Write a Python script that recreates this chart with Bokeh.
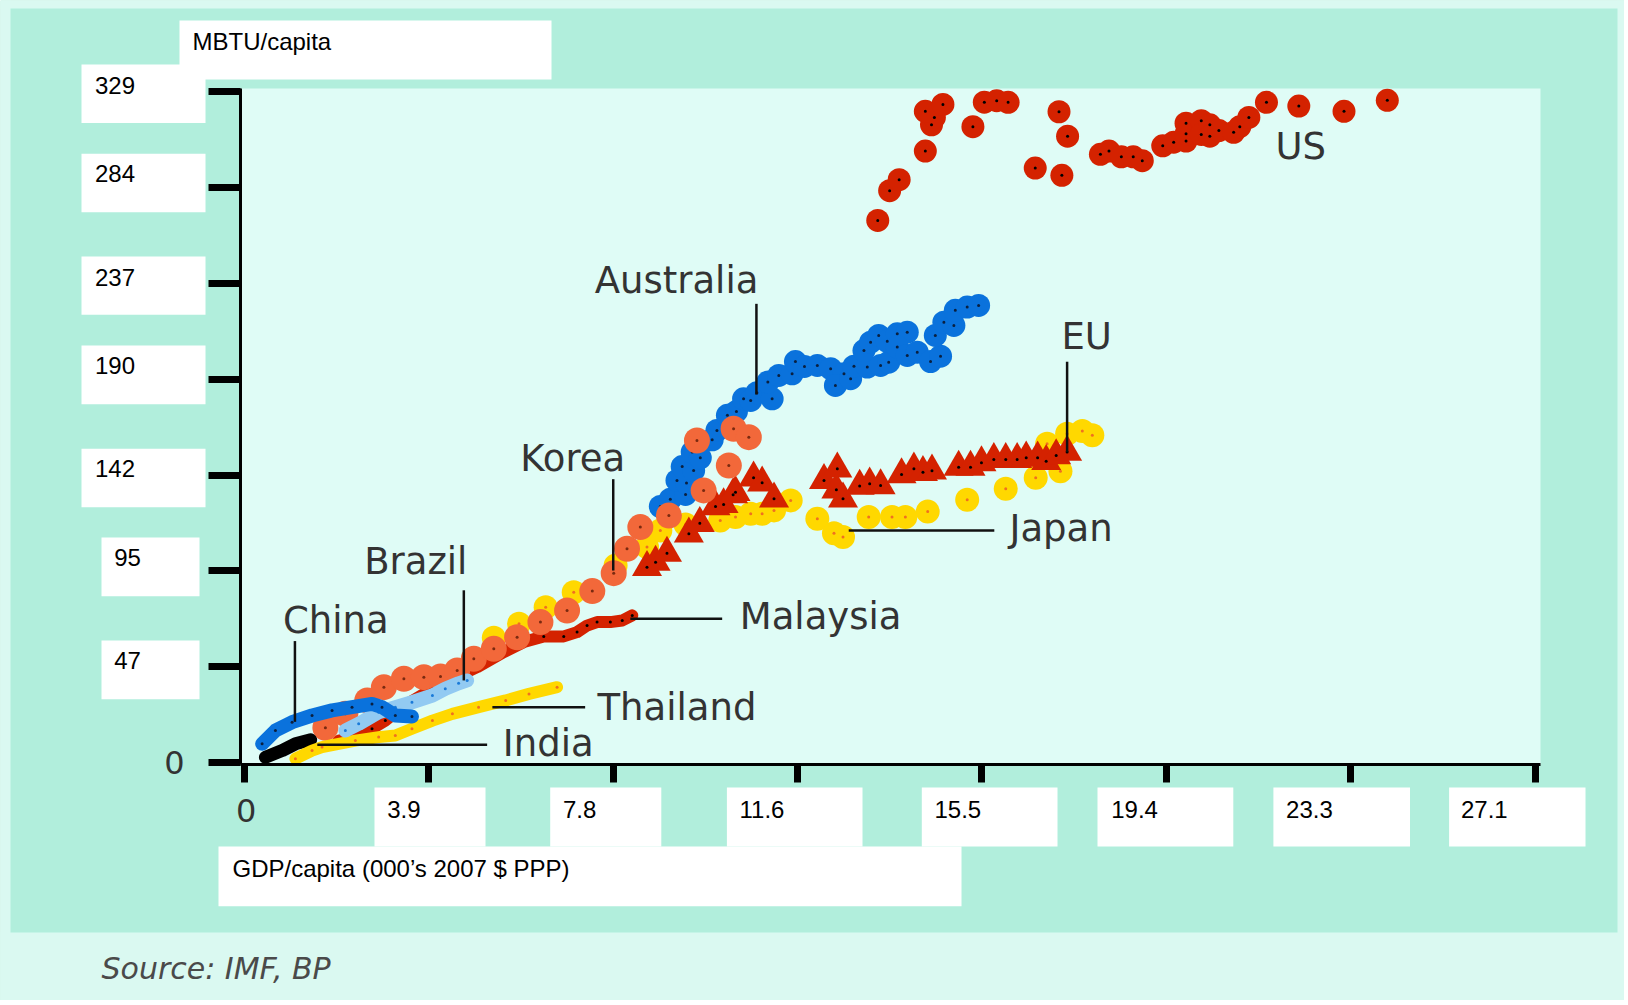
from bokeh.plotting import figure
from bokeh.models import Range1d, FixedTicker, BoxAnnotation, Label, LinearAxis
from bokeh.embed import file_html
from bokeh.resources import INLINE

# ---------------- data (GDP/capita, 000's 2007 $ PPP ; MBTU/capita) ----------------
x_ticks = [0, 3.875, 7.75, 11.625, 15.5, 19.375, 23.25, 27.125]
x_tick_labels = ["0", "3.9", "7.8", "11.6", "15.5", "19.4", "23.3", "27.1"]
y_ticks = [0, 47, 94, 141, 188, 235, 282, 329]
y_tick_labels = ["0", "47", "95", "142", "190", "237", "284", "329"]

us_gdp = [13.31, 13.56, 13.76, 14.31, 14.44, 14.50, 14.31, 14.68, 15.31, 15.55, 15.81, 16.05,
          17.12, 17.30, 16.62, 17.18, 17.99, 18.17, 18.43, 18.68, 18.87, 19.30, 19.53, 19.79,
          19.79, 19.79, 20.11, 20.11, 20.29, 20.29, 20.48, 20.79, 20.92, 21.11, 21.48, 22.16,
          23.11, 24.02]
us_energy = [265.9, 280.5, 285.9, 299.9, 312.8, 316.4, 319.4, 322.8, 311.9, 323.9, 324.6, 323.8,
             319.2, 307.2, 291.6, 288.0, 298.3, 299.9, 297.1, 297.1, 295.2, 302.5, 304.3, 304.8,
             308.4, 313.6, 314.8, 308.1, 312.8, 307.2, 310.0, 309.1, 311.9, 316.4, 323.8, 322.0,
             319.4, 324.8]

au_gdp = [8.74, 8.95, 9.27, 9.09, 9.29, 9.20, 9.44, 9.41, 9.58, 9.83, 9.93, 10.15, 10.34, 10.49,
          10.64, 10.77, 11.09, 11.00, 11.23, 11.51, 11.58, 11.77, 12.04, 12.32, 12.60, 12.42,
          12.74, 12.81, 13.09, 13.37, 13.54, 13.02, 13.16, 13.33, 13.51, 13.72, 13.93, 13.72,
          13.93, 14.14, 14.42, 14.63, 14.52, 14.70, 14.91, 14.94, 15.19, 15.43]
au_energy = [125.6, 129.2, 131.5, 138.4, 137.1, 145.2, 143.3, 152.3, 149.5, 158.3, 162.9, 170.3,
             172.2, 178.4, 177.6, 181.4, 178.4, 186.6, 189.9, 190.7, 196.7, 194.3, 194.8, 193.2,
             190.7, 185.0, 188.3, 194.4, 194.0, 194.8, 196.4, 202.1, 206.2, 209.5, 206.6, 210.3,
             211.1, 203.8, 199.7, 201.3, 196.7, 199.3, 209.5, 216.0, 214.4, 221.8, 223.4, 224.2]

kr_gdp = [1.70, 2.12, 2.58, 2.93, 3.35, 3.77, 4.12, 4.47, 4.82, 5.24, 5.73, 6.22, 6.78, 7.31,
          7.76, 8.04, 8.32, 8.92, 9.65, 10.18, 9.51, 10.28, 10.60]
kr_energy = [17.1, 23.9, 30.5, 37.0, 41.1, 41.9, 42.2, 45.2, 50.9, 55.8, 61.5, 68.9, 74.6, 84.1,
             92.9, 104.9, 115.5, 121.2, 133.5, 145.7, 158.0, 163.7, 159.6]

jp_gdp = [5.24, 5.77, 6.33, 6.92, 7.80, 8.46, 8.74, 9.27, 10.00, 10.32, 10.64, 10.88, 11.13,
          11.48, 12.04, 12.39, 12.58, 13.12, 13.61, 13.89, 14.36, 15.19, 16.00, 16.63, 17.15,
          16.87, 17.29, 17.61, 17.82]
jp_energy = [61.2, 68.1, 76.2, 83.6, 96.7, 105.7, 113.8, 116.8, 118.7, 120.4, 122.0, 122.0, 123.7,
             128.6, 119.6, 112.5, 110.6, 120.4, 120.4, 120.4, 123.2, 128.9, 134.3, 139.7, 142.9,
             156.4, 161.3, 162.6, 160.5]

eu_gdp = [8.46, 8.64, 8.88, 9.34, 9.57, 9.90, 10.07, 10.27, 10.32, 10.70, 10.88, 11.13, 12.18,
          12.46, 12.44, 12.58, 12.93, 13.14, 13.37, 13.81, 14.07, 14.26, 14.45, 15.01, 15.26,
          15.49, 15.75, 16.00, 16.24, 16.43, 16.67, 16.85, 17.06, 17.29]
eu_energy = [95.8, 98.3, 102.7, 112.2, 117.4, 125.6, 126.6, 131.4, 132.6, 139.7, 137.2, 129.4,
             138.4, 144.1, 133.8, 129.4, 135.6, 136.7, 135.9, 141.3, 144.1, 142.4, 143.1, 144.9,
             144.9, 147.1, 148.7, 148.7, 148.7, 149.5, 149.5, 147.8, 150.6, 152.3]

my_gdp = [1.98, 2.33, 2.68, 2.96, 3.31, 3.66, 4.01, 4.89, 5.45, 5.87, 6.29, 6.71, 6.99, 7.20,
          7.41, 7.69, 7.94, 8.15]
my_energy = [10.8, 12.5, 16.6, 20.6, 27.2, 32.1, 37.0, 46.8, 54.2, 59.1, 61.9, 61.9, 64.0, 67.2,
             68.9, 68.9, 69.7, 72.2]

cn_gdp = [0.37, 0.65, 1.00, 1.42, 1.84, 2.26, 2.68, 2.89, 3.17, 3.52]
cn_energy = [9.2, 15.7, 19.8, 23.1, 25.6, 27.2, 28.8, 27.2, 23.1, 22.6]

br_gdp = [2.12, 2.40, 2.82, 3.17, 3.52, 3.95, 4.22, 4.50, 4.68]
br_energy = [15.7, 19.0, 24.7, 27.2, 29.6, 32.9, 36.2, 38.9, 40.3]

th_gdp = [1.07, 1.42, 1.63, 2.33, 2.82, 3.17, 3.52, 3.95, 4.37, 4.92, 5.49, 5.98, 6.57]
th_energy = [1.9, 5.9, 7.6, 10.8, 12.5, 13.3, 16.6, 20.6, 23.9, 27.2, 30.5, 33.7, 37.0]

in_gdp = [0.44, 0.79, 1.07, 1.39]
in_energy = [2.6, 5.9, 9.2, 11.2]

# ---------------- styling / layout ----------------
TEAL = "#b1eedc"
PLOT_BG = "#dffcf6"
BAND_BG = "#daf9f1"
RED = "#d42200"
BLUE = "#0a72dc"
CORAL = "#f2683a"
YELLOW = "#ffd800"
LIGHTBLUE = "#92caf2"
INK = "#333333"
CHART_FONT = "DejaVu Sans"
BOX_FONT = "Liberation Sans"

W, H = 1624, 1000
# page-pixel edges of the plotting area and the data values they stand for
PLOT_L, PLOT_R, PLOT_T, PLOT_B = 240, 1540, 88, 764
X0, X1 = -0.084, 27.24
Y0, Y1 = -0.93, 330.6


def px_x(px):
    return X0 + (px - PLOT_L) / (PLOT_R - PLOT_L) * (X1 - X0)


def px_y(py):
    return Y0 + (PLOT_B - py) / (PLOT_B - PLOT_T) * (Y1 - Y0)


p = figure(width=W, height=H, output_backend="svg", toolbar_location=None,
           x_range=Range1d(px_x(0), px_x(W)), y_range=Range1d(px_y(H), px_y(0)),
           x_axis_location=None, y_axis_location=None,
           min_border=0, min_border_left=0, min_border_right=0, min_border_top=0,
           min_border_bottom=0, background_fill_color=TEAL, border_fill_color=TEAL,
           outline_line_color=None)
p.title.visible = False
p.grid.visible = False

# light page strips, source band and the plotting area (drawn beneath everything)
def page_box(left, top, right, bottom, color="white", level="underlay"):
    p.add_layout(BoxAnnotation(left=px_x(left), right=px_x(right), top=px_y(top),
                               bottom=px_y(bottom), fill_color=color, fill_alpha=1.0,
                               line_color=None, level=level))


page_box(0, 0, 10, H, BAND_BG)
page_box(0, 0, W, 8, BAND_BG)
page_box(1617, 0, W, H, BAND_BG)
page_box(0, 932, W, H, BAND_BG)
page_box(PLOT_L, PLOT_T, PLOT_R, PLOT_B, PLOT_BG)

# axes fixed on the edges of the plotting area
xaxis = LinearAxis(fixed_location=Y0, bounds=(X0, X1))
yaxis = LinearAxis(fixed_location=X0, bounds=(Y0, Y1))
p.add_layout(xaxis, "below")
p.add_layout(yaxis, "left")
for ax, ticks, tick_len in ((xaxis, x_ticks, 18), (yaxis, y_ticks, 32)):
    ax.ticker = FixedTicker(ticks=ticks)
    ax.major_label_overrides = {t: "" for t in ticks}
    ax.axis_line_color = "black"
    ax.axis_line_width = 3
    ax.major_tick_line_color = "black"
    ax.major_tick_line_width = 7
    ax.major_tick_in = 0
    ax.major_tick_out = tick_len
    ax.minor_tick_in = 0
    ax.minor_tick_out = 0


# ---------------- series ----------------
def dotted_line(xs, ys, width, color, dot):
    p.line(xs, ys, line_width=width, line_color=color, line_cap="round", line_join="round")
    p.scatter(xs, ys, marker="circle", size=3, fill_color=dot, line_color=None)


def dotted_markers(xs, ys, marker, size, color, dot):
    p.scatter(xs, ys, marker=marker, size=size, fill_color=color, line_color=None)
    p.scatter(xs, ys, marker="circle", size=3, fill_color=dot, line_color=None)


dotted_markers(jp_gdp, jp_energy, "circle", 24, YELLOW, "#f07020")
dotted_markers(eu_gdp, eu_energy, "triangle", 30, RED, "black")
dotted_markers(au_gdp, au_energy, "circle", 23, BLUE, "#0a2040")
dotted_line(my_gdp, my_energy, 12, RED, "black")
dotted_markers(kr_gdp, kr_energy, "circle", 26, CORAL, "#7a2a10")
dotted_line(in_gdp, in_energy, 13, "black", "black")
dotted_line(th_gdp, th_energy, 12, YELLOW, "#f07020")
dotted_line(br_gdp, br_energy, 14, LIGHTBLUE, "#1a7ad8")
dotted_line(cn_gdp, cn_energy, 14, BLUE, "#0a2040")
dotted_markers(us_gdp, us_energy, "circle", 23, RED, "black")

# ---------------- country annotations (data units) ----------------
annotations = [
    # text, x, y, align, leader (x0, y0, x1, y1)
    ("China", 1.92, 69.8, "center", (1.06, 59.6, 1.06, 20.0)),
    ("Brazil", 3.60, 98.8, "center", (4.61, 84.5, 4.61, 40.3)),
    ("Korea", 6.90, 149.2, "center", (7.75, 139.0, 7.75, 94.2)),
    ("Australia", 9.08, 236.3, "center", (10.76, 225.0, 10.76, 180.5)),
    ("EU", 17.70, 208.8, "center", (17.29, 196.6, 17.29, 152.3)),
    ("US", 21.67, 302.0, "left", None),
    ("Japan", 16.08, 114.6, "left", (12.70, 113.8, 15.76, 113.8)),
    ("Malaysia", 10.41, 71.8, "left", (8.11, 70.6, 10.04, 70.6)),
    ("Thailand", 7.42, 27.0, "left", (5.21, 27.2, 7.16, 27.2)),
    ("India", 5.43, 9.2, "left", (1.53, 8.7, 5.10, 8.7)),
]
for text, lx, ly, align, leader in annotations:
    if leader is not None:
        x0, y0, x1, y1 = leader
        p.segment(x0=[x0], y0=[y0], x1=[x1], y1=[y1], line_color="#111111", line_width=2.5)
    p.add_layout(Label(x=lx, y=ly, text=text, text_font=CHART_FONT, text_font_size="37px",
                       text_color=INK, text_align=align, text_baseline="middle"))


# ---------------- label boxes around the plotting area (page pixels) ----------------
def page_text(x, y, text, font=BOX_FONT, size="24px", color="black", align="left",
              style="normal"):
    p.add_layout(Label(x=px_x(x), y=px_y(y), text=text, text_font=font,
                       text_font_size=size, text_color=color, text_align=align,
                       text_baseline="middle", text_font_style=style))


page_text(101, 968, "Source: IMF, BP", font=CHART_FONT, size="30px", color="#4a4a4a",
          style="italic")

# y-axis title
page_box(179, 20, 551, 79)
page_text(192, 40.5, "MBTU/capita")

# y tick label boxes: (left, top, right, bottom, text_x, text_y)
y_boxes = [
    (101, 640, 199, 698.7, 113.7, 659.5),
    (101, 537, 199, 595.7, 113.7, 557.2),
    (81, 448.3, 205, 506.7, 94.5, 467.8),
    (81, 345, 205, 403.7, 94.5, 365.3),
    (81, 256, 205, 314.3, 94.5, 276.5),
    (81, 153.3, 205, 211.7, 94.5, 172.5),
    (81, 64, 205, 122.5, 94.5, 85),
]
for (l, t, r, b, tx, ty), lab in zip(y_boxes, y_tick_labels[1:]):
    page_box(l, t, r, b)
    page_text(tx, ty, lab)

# x tick label boxes: (left, right, text_x)
x_boxes = [
    (374, 485, 386.7), (549.7, 660.8, 562.5), (726.4, 862, 739), (921.3, 1057, 934),
    (1097, 1232.8, 1110.7), (1272.9, 1409.5, 1285.6), (1448.6, 1585, 1460.5),
]
for (l, r, tx), lab in zip(x_boxes, x_tick_labels[1:]):
    page_box(l, 787, r, 846)
    page_text(tx, 809, lab)

# x-axis title
page_box(218, 846, 961, 905.7)
page_text(232, 868, "GDP/capita (000\u2019s 2007 $ PPP)")

# zero labels in the chart's own lettering
page_text(174, 762, y_tick_labels[0], font=CHART_FONT, size="32px", color="#333333",
          align="center")
page_text(245.7, 810, x_tick_labels[0], font=CHART_FONT, size="32px", color="#333333",
          align="center")

open("out.html", "w").write(file_html(p, INLINE))
